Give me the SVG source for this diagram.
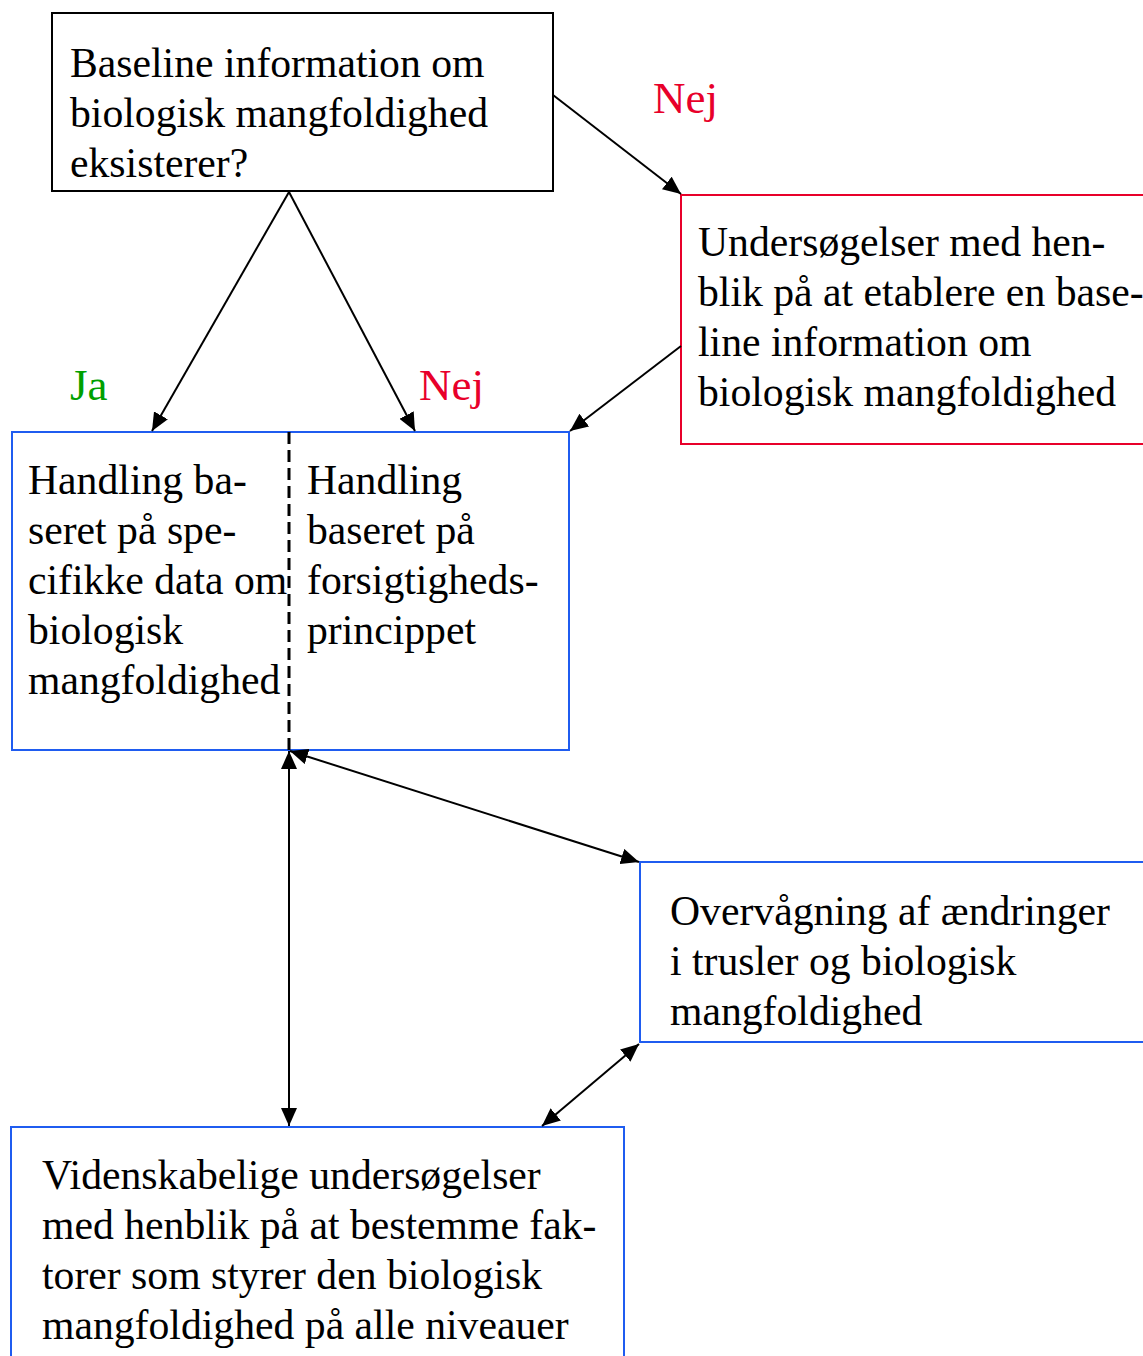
<svg xmlns="http://www.w3.org/2000/svg" width="1143" height="1356" viewBox="0 0 1143 1356">
<style>
text{font-family:"Liberation Serif","Times New Roman",serif;font-size:41.7px;fill:#000}
.box{fill:#fff;stroke-width:2}
.blk{stroke:#000}
.red{stroke:#e8002a}
.blue{stroke:#1f5cf0}
.conn line{stroke:#000;stroke-width:2}
.lbl{font-size:45px}
.lr{fill:#e8002a}
.lg{fill:#00a000}
</style>
<defs>
<marker id="ah" markerUnits="userSpaceOnUse" markerWidth="18" markerHeight="16" refX="18" refY="8" orient="auto-start-reverse" viewBox="0 0 18 16">
<path d="M0,0 L18,8 L0,16 z" fill="#000"/>
</marker>
</defs>
<rect width="1143" height="1356" fill="#fff"/>
<g id="n1">
<rect class="box blk" x="52" y="13" width="501" height="178"/>
<text x="70" y="77">Baseline information om</text>
<text x="70" y="127">biologisk mangfoldighed</text>
<text x="70" y="177">eksisterer?</text>
</g>
<g id="n2">
<rect class="box red" x="681" y="195" width="480" height="249"/>
<text x="698" y="256">Undersøgelser med hen-</text>
<text x="698" y="306">blik på at etablere en base-</text>
<text x="698" y="356">line information om</text>
<text x="698" y="406">biologisk mangfoldighed</text>
</g>
<g id="n3">
<rect class="box blue" x="12" y="432" width="557" height="318"/>
<line x1="289" y1="432" x2="289" y2="750" stroke="#000" stroke-width="3" stroke-dasharray="12,6"/>
<text x="28" y="494">Handling ba-</text>
<text x="28" y="544">seret på spe-</text>
<text x="28" y="594">cifikke data om</text>
<text x="28" y="644">biologisk</text>
<text x="28" y="694">mangfoldighed</text>
<text x="307" y="494">Handling</text>
<text x="307" y="544">baseret på</text>
<text x="307" y="594">forsigtigheds-</text>
<text x="307" y="644">princippet</text>
</g>
<g id="n4">
<rect class="box blue" x="640" y="862" width="520" height="180"/>
<text x="670" y="925">Overvågning af ændringer</text>
<text x="670" y="975">i trusler og biologisk</text>
<text x="670" y="1025">mangfoldighed</text>
</g>
<g id="n5">
<rect class="box blue" x="11" y="1127" width="613" height="260"/>
<text x="42" y="1189">Videnskabelige undersøgelser</text>
<text x="42" y="1239">med henblik på at bestemme fak-</text>
<text x="42" y="1289">torer som styrer den biologisk</text>
<text x="42" y="1339">mangfoldighed på alle niveauer</text>
</g>
<g id="labels">
<text class="lbl lr" x="653" y="113">Nej</text>
<text class="lbl lg" x="70" y="400">Ja</text>
<text class="lbl lr" x="419" y="400">Nej</text>
</g>
<g class="conn" id="connectors">
<line x1="553" y1="95" x2="681" y2="194" marker-end="url(#ah)"/>
<line x1="289" y1="192" x2="152" y2="431" marker-end="url(#ah)"/>
<line x1="289" y1="192" x2="415" y2="431" marker-end="url(#ah)"/>
<line x1="681" y1="346" x2="570" y2="431" marker-end="url(#ah)"/>
<line x1="289" y1="751" x2="289" y2="1126" marker-start="url(#ah)" marker-end="url(#ah)"/>
<line x1="290" y1="751" x2="639" y2="862" marker-start="url(#ah)" marker-end="url(#ah)"/>
<line x1="639" y1="1044" x2="542" y2="1126" marker-start="url(#ah)" marker-end="url(#ah)"/>
</g>
</svg>
